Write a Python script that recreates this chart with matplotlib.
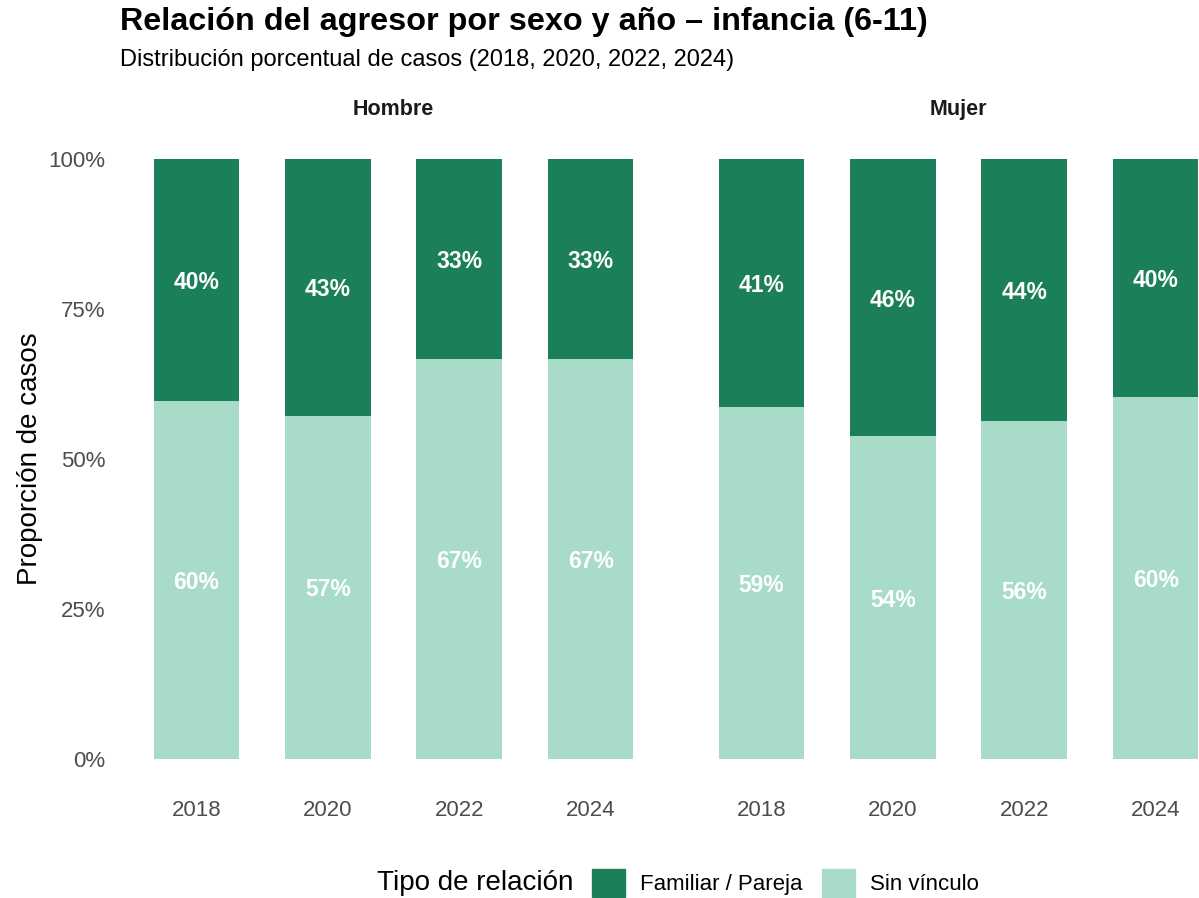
import matplotlib.pyplot as plt
from matplotlib.patches import Patch

plt.rcParams['font.family'] = ['Liberation Sans', 'DejaVu Sans']

years = ["2018", "2020", "2022", "2024"]
sexes = ["Hombre", "Mujer"]
# share of cases per year (%), by agressor relation
familiar = {"Hombre": [40.3, 42.8, 33.3, 33.3],
            "Mujer": [41.3, 46.2, 43.6, 39.6]}
sin_vinculo = {"Hombre": [59.7, 57.2, 66.7, 66.7],
               "Mujer": [58.7, 53.8, 56.4, 60.4]}

dark = "#1b7f5a"
light = "#a8dcc8"
W, H = 1199, 898

fig = plt.figure(figsize=(W / 100, H / 100), dpi=100)

panels = {"Hombre": 117.6, "Mujer": 682.6}
for sex in sexes:
    left = panels[sex]
    ax = fig.add_axes([left / W, (H - 789) / H, 551.8 / W, 660 / H])
    x = range(len(years))
    sv = [v / 100 for v in sin_vinculo[sex]]
    fm = [v / 100 for v in familiar[sex]]
    ax.bar(x, sv, width=0.65, color=light)
    ax.bar(x, fm, width=0.65, bottom=sv, color=dark)
    for i in x:
        ax.text(i, sv[i] / 2, f"{round(sin_vinculo[sex][i])}%", ha="center", va="center_baseline",
                color="white", fontsize=16.5, fontweight="bold")
        ax.text(i, sv[i] + fm[i] / 2, f"{round(familiar[sex][i])}%", ha="center", va="center_baseline",
                color="white", fontsize=16.5, fontweight="bold")
    ax.set_xlim(-0.6, 3.6)
    ax.set_ylim(-0.05, 1.05)
    ax.set_xticks(list(x))
    ax.set_xticklabels(years)
    ax.tick_params(axis="x", length=0, pad=8, labelsize=16, labelcolor="#4d4d4d")
    if sex == "Hombre":
        ax.set_yticks([0, 0.25, 0.5, 0.75, 1.0])
        ax.set_yticklabels(["0%", "25%", "50%", "75%", "100%"])
        ax.tick_params(axis="y", length=0, pad=9, labelsize=16, labelcolor="#4d4d4d")
        ax.set_ylabel("Proporción de casos", fontsize=20, labelpad=4)
    else:
        ax.set_yticks([])
    for s in ax.spines.values():
        s.set_visible(False)
    ax.set_title(sex, fontsize=15.5, fontweight="bold", pad=10, color="#1a1a1a")

fig.text(120 / W, 1 - 22 / H, "Relación del agresor por sexo y año – infancia (6-11)",
         fontsize=23.3, fontweight="bold", va="center", ha="left")
fig.text(120 / W, 1 - 60 / H, "Distribución porcentual de casos (2018, 2020, 2022, 2024)",
         fontsize=17, va="center", ha="left")

fig.text(573 / W, 1 - 883 / H, "Tipo de relación", fontsize=20, ha="right", va="center")
handles = [Patch(color=dark, label="Familiar / Pareja"), Patch(color=light, label="Sin vínculo")]
fig.legend(handles=handles, loc="center left", bbox_to_anchor=(592 / W, 1 - 883 / H),
           ncol=2, frameon=False, fontsize=16, handlelength=1.5, handleheight=1.5,
           handletextpad=0.68, columnspacing=0.85, borderpad=0, borderaxespad=0)

fig.savefig("out.png", dpi=100)
